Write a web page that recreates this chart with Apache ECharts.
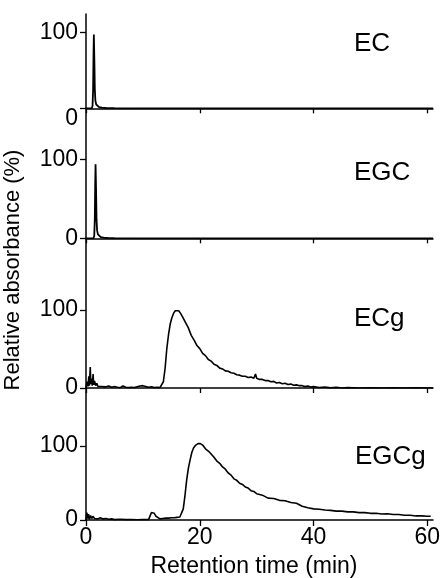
<!DOCTYPE html>
<html>
<head>
<meta charset="utf-8">
<script src="https://cdn.jsdelivr.net/npm/echarts@6/dist/echarts.min.js"></script>
<style>
html,body{margin:0;padding:0;background:#fff;}
#chart{width:441px;height:578px;}
</style>
</head>
<body>
<div id="chart"></div>
<script>
// ---- data (retention time in min, relative absorbance in %) ----
const panelNames = ['EC', 'EGC', 'ECg', 'EGCg'];
const xTicks = [0, 20, 40, 60];
const yTicks = [0, 100];

const ecTime = [0, 1.0, 1.15, 1.25, 1.32, 1.38, 1.42, 1.48, 1.55, 1.65, 1.8, 2.0, 2.3, 2.8, 3.5, 5, 10, 20, 30, 40, 50, 61];
const ecAbs  = [0, 0, 3, 25, 70, 97, 95, 60, 25, 10, 5, 3, 1.5, 0.8, 0.4, 0.2, 0, 0, 0, 0, 0, 0];

const egcTime = [0, 1.3, 1.45, 1.55, 1.62, 1.68, 1.72, 1.78, 1.85, 1.95, 2.1, 2.3, 2.6, 3.1, 3.8, 5, 10, 20, 30, 40, 50, 61];
const egcAbs  = [0, 0, 3, 25, 70, 94, 92, 58, 24, 10, 5, 3, 1.5, 0.8, 0.4, 0.2, 0, 0, 0, 0, 0, 0];

const ecgTime = [0, 0.2, 0.35, 0.5, 0.6, 0.75, 0.85, 1.0, 1.1, 1.25, 1.35, 1.5, 1.7, 1.9, 2.1, 2.4, 2.7, 3.0, 3.5, 4.0, 4.5, 5.0, 5.5, 6.0, 6.5, 7.0, 7.5, 8.0, 8.5, 9.0, 9.5, 10.0, 10.5, 11.0, 11.5, 12.0, 12.5, 13.0, 13.3, 13.6, 13.9, 14.2, 14.5, 14.8, 15.1, 15.4, 15.7, 16.0, 16.3, 16.6, 17.0, 17.5, 18.0, 18.5, 19.0, 19.5, 20.0, 20.5, 21.0, 21.5, 22.0, 22.5, 23.0, 23.5, 24.0, 24.5, 25.0, 25.5, 26.0, 26.5, 27.0, 27.5, 28.0, 28.5, 29.0, 29.5, 29.8, 30.0, 30.5, 31, 31.5, 32, 32.5, 33, 33.5, 34, 34.5, 35, 35.5, 36, 36.5, 37, 37.5, 38, 38.5, 39, 39.5, 40, 41, 42, 43, 44, 45, 46, 48, 50, 52, 54, 56, 58, 60, 61];
const ecgAbs  = [0, 8, 2, 15, 3, 27, 5, 12, 3, 18, 4, 9, 3, 6, 2, 4, 2, 3, 1.5, 2.5, 1, 2, 1, 0.5, 2.5, 1, 0.5, 1, 0.5, 1.5, 2.5, 3, 2, 1, 1.5, 0.5, 1, 0.5, 1, 8, 25, 50, 68, 82, 90, 96, 99, 100, 99, 96, 91, 84, 77, 67.5, 61.5, 54.5, 50.5, 44.5, 41.5, 36.5, 34.5, 30.5, 29, 25.5, 24.5, 22, 21.5, 19.5, 19, 17, 16.5, 15, 15, 13.5, 14, 12.5, 18, 12.5, 11, 11, 9.5, 9.5, 8, 8.5, 6.5, 7, 5.5, 6, 4.5, 5, 3.5, 4, 3, 3, 1.8, 2.5, 1.2, 1.8, 0.7, 1.2, 0.2, 0.8, 0, 0.5, 0, 0.3, 0, 0.3, 0, 0.3, 0, 0];

const egcgTime = [0, 0.15, 0.3, 0.45, 0.6, 0.8, 1.0, 1.2, 1.5, 1.8, 2.1, 2.5, 3, 3.5, 4, 4.5, 5, 6, 7, 8, 9, 10, 11, 11.3, 11.5, 11.7, 12.0, 12.3, 12.6, 13.0, 13.5, 14, 14.5, 15, 15.5, 16, 16.5, 16.8, 17.1, 17.4, 17.7, 18.0, 18.3, 18.6, 18.9, 19.3, 19.7, 20.1, 20.5, 21.0, 21.5, 22.0, 22.5, 23, 23.5, 24, 24.5, 25, 25.5, 26, 26.5, 27, 27.5, 28, 28.5, 29, 29.5, 30, 31, 32, 33, 34, 35, 36, 37, 38, 39, 40, 41, 42, 43, 44, 45, 46, 47, 48, 49, 50, 51, 52, 53, 54, 55, 56, 57, 58, 59, 60, 60.6];
const egcgAbs  = [0, 10, 2, 8, 1, 6, 2, 5, 2, 3, 1.5, 3, 1.5, 2, 1, 1.5, 0.5, 1, 0.5, 0.5, 0.3, 0.5, 0.5, 2, 10, 12, 9, 5, 2.5, 1.5, 2, 2.5, 2.5, 3, 3, 3.5, 4, 6, 15, 33, 54, 70, 81, 91, 97, 101, 103, 103, 101, 96, 93, 89, 84.5, 79.5, 76.5, 71.5, 68.5, 63.5, 60.5, 55.5, 53.5, 49.5, 48, 44.5, 43, 39.5, 38.5, 35.5, 33.5, 29.5, 29, 26.5, 26, 23.5, 22.5, 18.5, 16.5, 15, 14.5, 13.5, 13, 12, 12, 11, 11, 10, 10, 9, 9, 8, 8.5, 7.5, 7.5, 6.5, 6.5, 5.5, 5.5, 5, 5, 4.5];

const panelTimes = [ecTime, egcTime, ecgTime, egcgTime];
const panelValues = [ecAbs, egcAbs, ecgAbs, egcgAbs];
const panelYMax = [124, 165, 192, 178];

// ---- layout ----
const FONT = '"Liberation Sans", Arial, Helvetica, sans-serif';
const gridLeft = 86, gridRight = 8;
const gridTops = [14, 108.3, 238.3, 388];
const gridBottoms = [108.3, 238.3, 388, 520];
const labelPos = [[354, 44], [354, 173], [354, 319], [355, 457]];

const chart = echarts.init(document.getElementById('chart'), null, {renderer: 'canvas'});

const grid = [], xAxis = [], yAxis = [], series = [], graphic = [];
for (let i = 0; i < 4; i++) {
  grid.push({left: gridLeft, right: gridRight, top: gridTops[i], height: gridBottoms[i] - gridTops[i], containLabel: false, outerBoundsMode: 'none'});
  const last = i === 3;
  xAxis.push({
    gridIndex: i, type: 'value', min: 0, max: 61,
    axisLine: {show: true, onZero: false, lineStyle: {color: '#000', width: 1.5}},
    axisTick: {show: true, length: last ? 6 : 5, customValues: xTicks, lineStyle: {color: '#000', width: 1.3}},
    axisLabel: {show: last, customValues: xTicks, color: '#000', fontSize: 23, fontFamily: FONT, margin: 6},
    splitLine: {show: false}
  });
  yAxis.push({
    gridIndex: i, type: 'value', min: 0, max: panelYMax[i],
    axisLine: {show: true, onZero: false, lineStyle: {color: '#000', width: 1.5}},
    axisTick: {show: true, length: 6, customValues: yTicks, lineStyle: {color: '#000', width: 1.3}},
    axisLabel: {
      customValues: yTicks, color: '#000', fontSize: 23, fontFamily: FONT, margin: 8,
      formatter: (i === 0) ? (v => v === 0 ? '{lo|0}' : String(v)) : (v => String(v)),
      rich: {lo: {fontSize: 23, fontFamily: FONT, color: '#000', padding: [20, 0, 0, 0]}}
    },
    splitLine: {show: false}
  });
  series.push({
    name: panelNames[i], type: 'line', xAxisIndex: i, yAxisIndex: i,
    data: panelTimes[i].map((t, k) => [t, panelValues[i][k]]),
    showSymbol: false, symbol: 'none', smooth: false, clip: true,
    lineStyle: {color: '#000', width: i < 2 ? 1.8 : 1.6},
    emphasis: {disabled: true}
  });
  graphic.push({
    type: 'text', x: labelPos[i][0], y: labelPos[i][1],
    style: {text: panelNames[i], fill: '#000', font: '26px ' + FONT, textAlign: 'left', textVerticalAlign: 'middle'}
  });
}
graphic.push({
  type: 'text', x: 13, y: 270, rotation: Math.PI / 2,
  style: {text: 'Relative absorbance (%)', fill: '#000', font: '22px ' + FONT, textAlign: 'center', textVerticalAlign: 'middle'}
});
graphic.push({
  type: 'text', x: 254, y: 567,
  style: {text: 'Retention time (min)', fill: '#000', font: '23px ' + FONT, textAlign: 'center', textVerticalAlign: 'middle'}
});

chart.setOption({
  animation: false,
  backgroundColor: '#fff',
  grid, xAxis, yAxis, series, graphic
});
</script>
</body>
</html>
